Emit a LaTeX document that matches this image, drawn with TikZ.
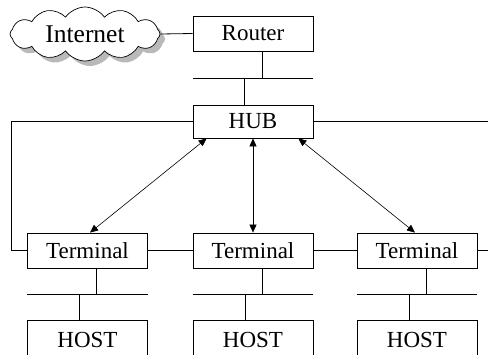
\documentclass[tikz,border=0pt]{standalone}
\usepackage{fontspec}
\setmainfont{Liberation Serif}
\usetikzlibrary{shapes.symbols,shadows,arrows.meta}
\begin{document}
\begin{tikzpicture}[x=1pt,y=-1pt,
  box/.style={draw,line width=0.8pt,minimum width=120pt,minimum height=35pt,inner sep=0pt,font=\fontsize{23}{26}\selectfont},
  wire/.style={line width=0.8pt},
  link/.style={line width=0.6pt,{Triangle[length=8pt,width=7pt]}-{Triangle[length=8pt,width=7pt]}}]
\useasboundingbox (0,0) rectangle (488,354);
\clip (0,0) rectangle (488,354);

% Internet cloud with grey shadow
\node (cloud) [cloud, cloud puffs=12, cloud puff arc=110, aspect=2.8,
  draw, line width=0.7pt, fill=white, minimum width=150pt, minimum height=54pt,
  drop shadow={shadow xshift=5pt,shadow yshift=-5pt,fill=gray!55,opacity=1},
  font=\fontsize{25.5}{28}\selectfont, inner sep=0pt] at (85,34) {Internet};

% Router, its bus and the hub
\node (router) [box] at (253,33.5) {Router};
\node (hub) [box,minimum height=33pt] at (253,121.5) {HUB};
\coordinate (rbusL) at (193,78);
\coordinate (rbusR) at (313,78);
\draw[wire] (rbusL) -- (rbusR);
\draw[wire] ([xshift=9pt]router.south) -- ([xshift=9pt]router.south |- rbusL);
\draw[wire] ([xshift=-9pt]hub.north |- rbusL) -- ([xshift=-9pt]hub.north);
\draw[wire] (cloud.east) -- (router.west);

% Terminals
\node (t1) [box] at (87.5,250.5) {Terminal};
\node (t2) [box] at (253,250.5) {Terminal};
\node (t3) [box] at (417,250.5) {Terminal};
\draw[wire] (t1.east) -- (t2.west);
\draw[wire] (t2.east) -- (t3.west);
\coordinate (redge) at (488,121.5);
\coordinate (ledge) at (11,121.5);
\coordinate (tedge) at (488,250.5);
\draw[wire] (hub.east) -- (redge);
\draw[wire] (hub.west) -- (ledge) |- (t1.west);
\draw[wire] (t3.east) -- (tedge);

% Hosts hanging off each terminal bus
\foreach \t/\h in {t1/h1,t2/h2,t3/h3}{
  \node (\h) [box,minimum height=40pt] at ([yshift=-89.5pt]\t.center) {HOST};
  \coordinate (\h L) at ([yshift=25pt]\h.north west);
  \coordinate (\h R) at ([yshift=25pt]\h.north east);
  \draw[wire] (\h L) -- (\h R);
  \draw[wire] ([xshift=9pt]\t.south) -- ([xshift=9pt]\t.south |- \h L);
  \draw[wire] ([xshift=-8pt]\h.north |- \h L) -- ([xshift=-8pt]\h.north);
}

% Links between the hub and the terminals
\draw[link] ([xshift=14pt]hub.south west) -- ([xshift=2.5pt]t1.north);
\draw[link] (hub.south) -- (t2.north);
\draw[link] ([xshift=-15pt]hub.south east) -- ([xshift=-2pt]t3.north);
\end{tikzpicture}
\end{document}
